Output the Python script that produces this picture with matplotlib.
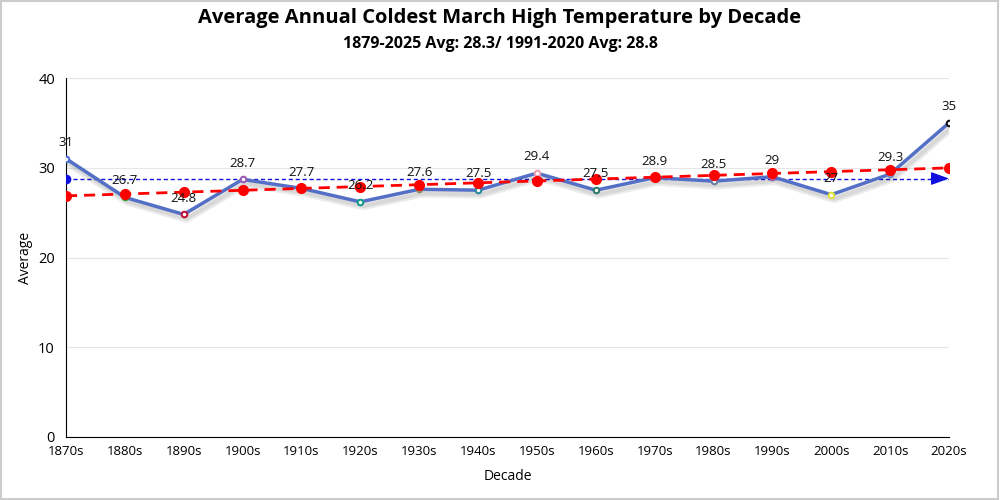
import matplotlib
matplotlib.use("Agg")
import matplotlib.pyplot as plt
import matplotlib.patheffects as pe
import numpy as np

decades = ["1870s", "1880s", "1890s", "1900s", "1910s", "1920s", "1930s", "1940s",
           "1950s", "1960s", "1970s", "1980s", "1990s", "2000s", "2010s", "2020s"]
values = [31, 26.7, 24.8, 28.7, 27.7, 26.2, 27.6, 27.5, 29.4, 27.5, 28.9, 28.5, 29, 27, 29.3, 35]
labels = ["31", "26.7", "24.8", "28.7", "27.7", "26.2", "27.6", "27.5", "29.4", "27.5",
          "28.9", "28.5", "29", "27", "29.3", "35"]
marker_colors = ["#4a6fd0", "#3aa03a", "#c0143c", "#9b59b6", "#8b6b4a", "#1a9a8a", "#8a8a6a", "#2a8a9a",
                 "#e8a0b0", "#2a7a6a", "#7a9a3a", "#6a7aa0", "#a05a9a", "#e0e040", "#6a8ac0", "#111111"]
avg_1991_2020 = 28.8
title = "Average Annual Coldest March High Temperature by Decade"
subtitle = "1879-2025 Avg: 28.3/ 1991-2020 Avg: 28.8"

plt.rcParams['font.family'] = ['Open Sans', 'DejaVu Sans']

fig = plt.figure(figsize=(10, 5), dpi=100)
ax = fig.add_axes([0.066, 0.126, 0.883, 0.718])

x = np.arange(len(decades))

# trend line (linear regression)
coef = np.polyfit(x, values, 1)
trend = np.polyval(coef, x)

# average line
ax.plot([x[0], x[-1]], [avg_1991_2020, avg_1991_2020], color="#1010e0", lw=1, ls=(0, (3, 2)), zorder=3)
ax.plot([x[0]], [avg_1991_2020], 'o', color="#1010e0", ms=6, zorder=4)
ax.annotate("", xy=(x[-1], avg_1991_2020), xytext=(x[-1] - 0.3, avg_1991_2020),
            arrowprops=dict(arrowstyle="-|>,head_length=1.1,head_width=0.4", color="#1010e0", lw=1,
                            shrinkA=0, shrinkB=0), zorder=4)

# main line
ax.plot(x, values, color="#5470c6", lw=2.5, zorder=5,
        path_effects=[pe.SimpleLineShadow(offset=(2, -3), alpha=0.08, shadow_color="black", linewidth=6),
                      pe.SimpleLineShadow(offset=(2, -3), alpha=0.08, shadow_color="black", linewidth=3),
                      pe.Normal()])
for xi, v, c in zip(x, values, marker_colors):
    ax.plot([xi], [v], 'o', ms=4, mfc="white", mec=c, mew=1.5, zorder=6)

# trend
ax.plot(x, trend, color="#ff0000", lw=2, ls=(0, (4, 2.5)), zorder=7)
ax.plot(x, trend, 'o', color="#ff0000", ms=7, zorder=7, ls="none")

for xi, v, lab in zip(x, values, labels):
    ax.text(xi, v + 1.1, lab, ha="center", va="bottom", fontsize=9.5, color="#111111", zorder=8)

ax.set_xlim(0, len(decades) - 1)
ax.set_ylim(0, 40)
ax.set_xticks(x)
ax.set_xticklabels(decades, fontsize=9.5)
ax.set_yticks([0, 10, 20, 30, 40])
ax.tick_params(axis='y', labelsize=10.5, length=0, pad=8)
ax.tick_params(axis='x', length=0, pad=6)
ax.grid(axis='y', color="#e6e6e6", lw=0.8)
ax.set_axisbelow(True)
for s in ["top", "right"]:
    ax.spines[s].set_visible(False)
ax.spines["left"].set_color("black")
ax.spines["bottom"].set_color("black")
ax.set_xlabel("Decade", fontsize=10, labelpad=8)
ax.set_ylabel("Average", fontsize=10, labelpad=4)

fig.text(0.5, 0.965, title, ha="center", va="center", fontsize=14.5, fontweight="bold")
fig.text(0.5, 0.912, subtitle, ha="center", va="center", fontsize=11.5, fontweight="bold")

border = plt.Rectangle((0.001, 0.002), 0.997, 0.996, transform=fig.transFigure, fill=False,
                       edgecolor="#cccccc", lw=1.5)
fig.patches.append(border)

fig.savefig("out.png", dpi=100)
